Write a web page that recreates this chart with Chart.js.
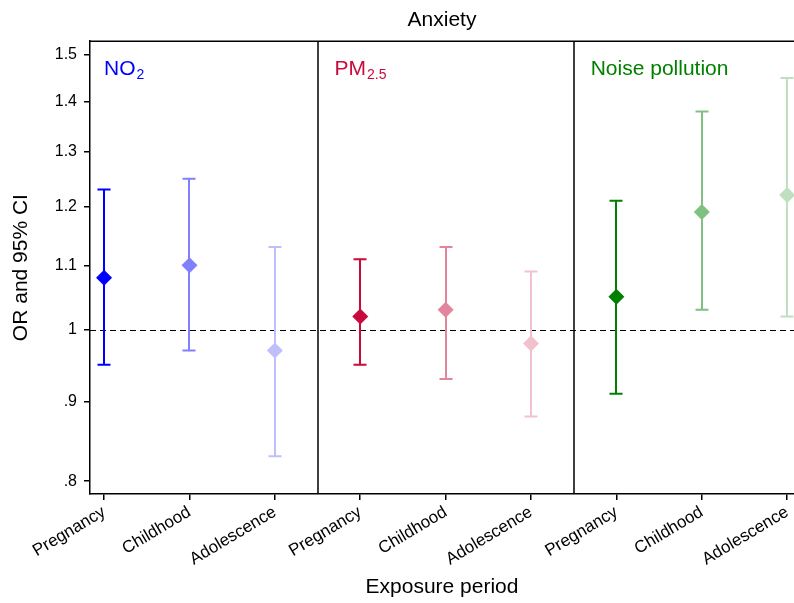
<!DOCTYPE html>
<html>
<head>
<meta charset="utf-8">
<script src="https://cdn.jsdelivr.net/npm/chart.js@4.4.1/dist/chart.umd.min.js"></script>
<style>
  html, body { margin: 0; padding: 0; background: #fff; }
  #wrap { width: 794px; height: 603px; }
</style>
</head>
<body>
<div id="wrap"><canvas id="oddsChart" width="794" height="603"></canvas></div>
<script>
// tick labels along x (three exposure periods per pollutant panel)
const periods = ["Pregnancy", "Childhood", "Adolescence"];
const tickLabels = periods.concat(periods, periods);
const yTicks = [0.8, 0.9, 1, 1.1, 1.2, 1.3, 1.4, 1.5];

// panel titles (main text + subscript)
const panelNames = ["NO", "PM", "Noise pollution"];
const panelSubs = ["2", "2.5", ""];

// odds ratios and 95% CI per pollutant
const orNO2 = [1.08, 1.10, 0.97];
const loNO2 = [0.95, 0.97, 0.83];
const hiNO2 = [1.23, 1.25, 1.13];

const orPM = [1.02, 1.03, 0.98];
const loPM = [0.95, 0.93, 0.88];
const hiPM = [1.11, 1.13, 1.09];

const orNoise = [1.05, 1.19, 1.22];
const loNoise = [0.91, 1.03, 1.02];
const hiNoise = [1.21, 1.38, 1.45];

const baseColors = [[0, 0, 255], [200, 10, 60], [0, 128, 0]];
const shades = [1, 0.5, 0.25];

function tint(rgb, a) {
  // blend toward white, like a reduced opacity over a white page
  const c = rgb.map(v => Math.round(255 - (255 - v) * a));
  return `rgb(${c[0]},${c[1]},${c[2]})`;
}

const groups = [
  { or: orNO2, lo: loNO2, hi: hiNO2 },
  { or: orPM, lo: loPM, hi: hiPM },
  { or: orNoise, lo: loNoise, hi: hiNoise }
];

const datasets = groups.map((g, gi) => {
  const colors = shades.map(s => tint(baseColors[gi], s));
  return {
    label: panelNames[gi] + panelSubs[gi],
    data: g.or.map((v, i) => ({ x: gi * 3 + i, y: v, lo: g.lo[i], hi: g.hi[i] })),
    pointStyle: "rectRot",
    pointRadius: 8,
    pointBackgroundColor: colors,
    pointBorderColor: colors,
    pointBorderWidth: 0,
    showLine: false
  };
});

const FONT = "'Liberation Sans', Arial, sans-serif";

// frame, separators, reference line, error bars, panel titles
const decorations = {
  id: "decorations",
  beforeDatasetsDraw(chart) {
    const { ctx, chartArea: a, scales: { x, y } } = chart;
    ctx.save();

    // dashed line at OR = 1
    ctx.strokeStyle = "#000";
    ctx.lineWidth = 1.2;
    ctx.setLineDash([6, 4]);
    const y1 = Math.round(y.getPixelForValue(1)) + 0.5;
    ctx.beginPath();
    ctx.moveTo(a.left, y1);
    ctx.lineTo(a.right, y1);
    ctx.stroke();
    ctx.setLineDash([]);

    // top border and panel separators
    ctx.lineWidth = 1.5;
    ctx.beginPath();
    ctx.moveTo(a.left, a.top);
    ctx.lineTo(a.right, a.top);
    [2.5, 5.5].forEach(v => {
      const px = Math.round(x.getPixelForValue(v));
      ctx.moveTo(px, a.top);
      ctx.lineTo(px, a.bottom);
    });
    ctx.stroke();

    // error bars
    chart.data.datasets.forEach(ds => {
      ds.data.forEach((p, i) => {
        const px = Math.round(x.getPixelForValue(p.x));
        const top = y.getPixelForValue(p.hi);
        const bot = y.getPixelForValue(p.lo);
        ctx.strokeStyle = ds.pointBackgroundColor[i];
        ctx.lineWidth = 2;
        ctx.beginPath();
        ctx.moveTo(px, top);
        ctx.lineTo(px, bot);
        ctx.moveTo(px - 6.5, top);
        ctx.lineTo(px + 6.5, top);
        ctx.moveTo(px - 6.5, bot);
        ctx.lineTo(px + 6.5, bot);
        ctx.stroke();
      });
    });

    // panel titles
    const starts = [-0.165, 2.5, 5.5];
    ctx.textBaseline = "alphabetic";
    ctx.textAlign = "left";
    panelNames.forEach((name, i) => {
      const left = x.getPixelForValue(starts[i]) + (i === 0 ? 14 : 17);
      const base = a.top + 34;
      ctx.fillStyle = tint(baseColors[i], 1);
      ctx.font = "21px " + FONT;
      ctx.fillText(name, left, base);
      if (panelSubs[i]) {
        const w = ctx.measureText(name).width;
        ctx.font = "14px " + FONT;
        ctx.fillText(panelSubs[i], left + w + 1, base + 4);
      }
    });

    ctx.restore();
  }
};

new Chart(document.getElementById("oddsChart").getContext("2d"), {
  type: "scatter",
  data: { datasets: datasets },
  plugins: [decorations],
  options: {
    responsive: false,
    animation: false,
    layout: { autoPadding: false, padding: { left: 0, right: 0, top: 0, bottom: 0 } },
    plugins: {
      legend: { display: false },
      tooltip: { enabled: false },
      title: {
        display: true,
        text: "Anxiety",
        fullSize: false,
        color: "#000",
        font: { family: FONT, size: 21, weight: "normal" },
        padding: { top: 8, bottom: 8 }
      }
    },
    scales: {
      x: {
        type: "linear",
        min: -0.165,
        max: 8.08,
        afterBuildTicks(scale) {
          scale.ticks = tickLabels.map((_, i) => ({ value: i }));
        },
        afterFit(scale) {
          scale.height = 109;
          scale.paddingLeft = 0;
          scale.paddingRight = 0;
        },
        ticks: {
          autoSkip: false,
          minRotation: 31,
          maxRotation: 31,
          color: "#000",
          padding: 2,
          font: { family: FONT, size: 17 },
          callback: value => tickLabels[value]
        },
        grid: {
          drawOnChartArea: false,
          drawTicks: true,
          tickLength: 6,
          color: "#000",
          lineWidth: 1.5
        },
        border: { display: true, color: "#000", width: 1.5 },
        title: {
          display: true,
          text: "Exposure period",
          color: "#000",
          font: { family: FONT, size: 21 },
          padding: { top: 4, bottom: 3 }
        }
      },
      y: {
        type: "logarithmic",
        min: 0.785,
        max: 1.531,
        afterBuildTicks(scale) {
          scale.ticks = yTicks.map(v => ({ value: v }));
        },
        afterFit(scale) {
          scale.width = 90;
        },
        ticks: {
          color: "#000",
          padding: 7,
          font: { family: FONT, size: 16 },
          callback: value => {
            const s = String(Math.round(value * 10) / 10);
            return s.startsWith("0.") ? s.slice(1) : s;
          }
        },
        grid: {
          drawOnChartArea: false,
          drawTicks: true,
          tickLength: 6,
          color: "#000",
          lineWidth: 1.5
        },
        border: { display: true, color: "#000", width: 1.5 },
        title: {
          display: true,
          text: "OR and 95% CI",
          color: "#000",
          font: { family: FONT, size: 21 },
          padding: { top: 9, bottom: 0 }
        }
      }
    }
  }
});
</script>
</body>
</html>
